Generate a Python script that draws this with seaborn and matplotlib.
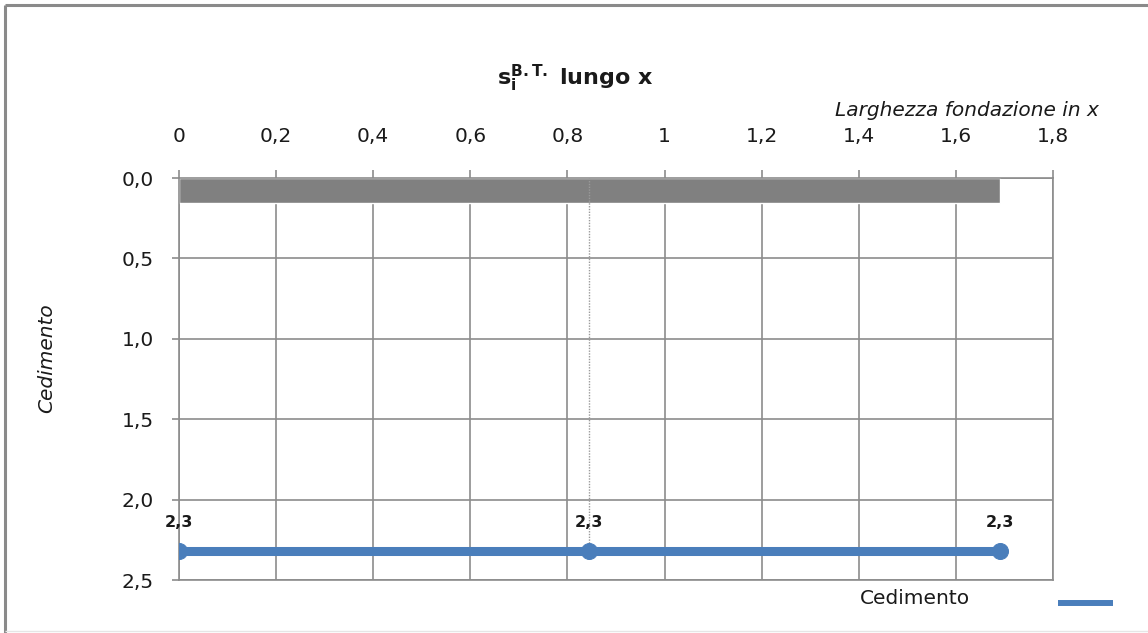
import matplotlib
matplotlib.use("Agg")
import matplotlib.pyplot as plt
from matplotlib.lines import Line2D
from matplotlib.ticker import FuncFormatter, MultipleLocator
import seaborn as sns
import pandas as pd

# ---- data ----
x_pos = [0.0, 0.845, 1.69]          # Larghezza fondazione in x
cedimento = [2.32, 2.32, 2.32]      # Cedimento
labels = ["2,3", "2,3", "2,3"]
foundation_width = 1.69
foundation_thickness = 0.155
centre_x = 0.845

sns.set_theme(style="white")
plt.rcParams['font.family'] = ['DejaVu Sans']
plt.rcParams['mathtext.fontset'] = 'dejavusans'

W, H = 1148, 633
fig = plt.figure(figsize=(W / 100, H / 100), dpi=100)
ax = fig.add_axes([179 / W, 1 - 580 / H, (1053 - 179) / W, (580 - 178) / H])

grid_c = "#8c8c8c"
blue = "#4a7ebb"
txt = "#1a1a1a"

# foundation bar
ax.barh([foundation_thickness / 2], [foundation_width], height=foundation_thickness,
        left=0, color="#808080", zorder=2, align="center")

# centre dotted line
ax.plot([centre_x, centre_x], [-0.02, cedimento[1]], color="#9a9a9a", lw=1,
        linestyle=(0, (1, 1)), zorder=3)

df = pd.DataFrame({"x": x_pos, "y": cedimento})
sns.lineplot(data=df, x="x", y="y", ax=ax, color=blue, lw=6.5, marker="o",
             markersize=11.5, markeredgecolor=blue, zorder=4, legend=False)

for xv, yv, lab in zip(x_pos, cedimento, labels):
    ax.text(xv, yv - 0.18, lab, ha="center", va="center", fontsize=11.5,
            fontweight="bold", color=txt)

ax.set_xlim(0, 1.8)
ax.set_ylim(2.5, 0.0)
ax.xaxis.set_major_locator(MultipleLocator(0.2))
ax.yaxis.set_major_locator(MultipleLocator(0.5))
ax.xaxis.set_major_formatter(FuncFormatter(lambda v, p: ("%g" % round(v, 2)).replace(".", ",")))
ax.yaxis.set_major_formatter(FuncFormatter(lambda v, p: ("%.1f" % v).replace(".", ",")))
ax.xaxis.tick_top()
ax.tick_params(axis="x", which="major", direction="out", length=6, width=1.2, color=grid_c,
               labelsize=14.5, pad=17, labelcolor=txt)
ax.tick_params(axis="y", which="major", direction="out", length=5, width=1.2, color=grid_c,
               labelsize=14.5, pad=13, labelcolor=txt)
ax.tick_params(left=True, top=True, bottom=False)
ax.grid(True, color=grid_c, lw=1.2)
ax.set_axisbelow(True)
for s in ax.spines.values():
    s.set_color(grid_c)
    s.set_linewidth(1.2)
ax.set_xlabel("")
ax.set_ylabel("")

fig.text(575 / W, 1 - 78 / H, r"$\mathbf{s_i^{B.T.}}$ lungo x", ha="center", va="center",
         fontsize=16, fontweight="bold", color=txt)
fig.text(1099 / W, 1 - 111 / H, "Larghezza fondazione in x", ha="right", va="center",
         fontsize=14.5, fontstyle="italic", color=txt)
fig.text(47 / W, 1 - 358 / H, "Cedimento", ha="center", va="center", rotation=90,
         fontsize=14.5, fontstyle="italic", color=txt)

# legend
fig.text(915 / W, 1 - 598 / H, "Cedimento", ha="center", va="center", fontsize=14.5,
         color=txt)
fig.add_artist(Line2D([1058 / W, 1113 / W], [1 - 603 / H, 1 - 603 / H], color=blue,
                      lw=4.3, solid_capstyle="butt", transform=fig.transFigure))

# outer border (top and left visible, faint bottom)
fig.add_artist(Line2D([5 / W, 1], [1 - 5 / H, 1 - 5 / H], color="#8a8a8a", lw=2.2,
                      solid_capstyle="butt", transform=fig.transFigure))
fig.add_artist(Line2D([5 / W, 5 / W], [0, 1 - 5 / H], color="#8a8a8a", lw=2.2,
                      solid_capstyle="butt", transform=fig.transFigure))
fig.add_artist(Line2D([5 / W, 1], [1 - 631 / H, 1 - 631 / H], color="#e6e6e6", lw=1,
                      solid_capstyle="butt", transform=fig.transFigure))

fig.savefig("out.png", dpi=100)
